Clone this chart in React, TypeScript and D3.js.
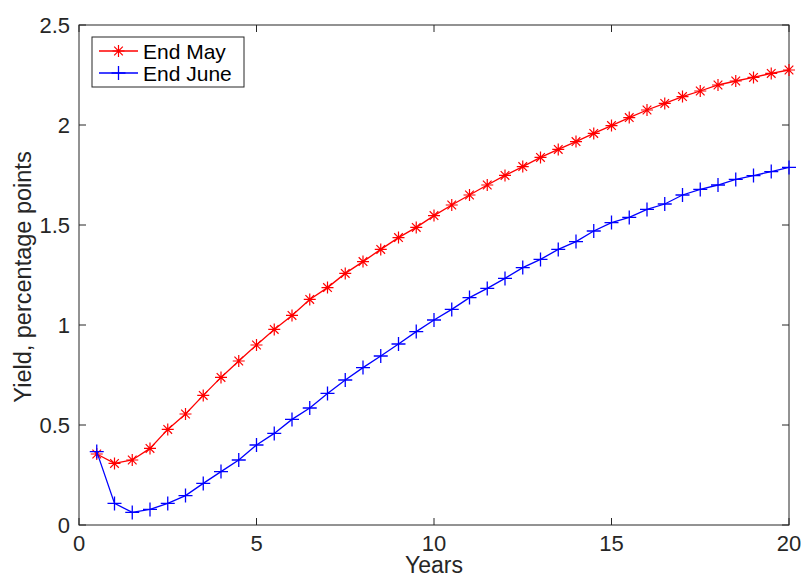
import { useEffect, useRef } from 'react'
import * as d3 from 'd3'

const years = [
  0.5, 1, 1.5, 2, 2.5, 3, 3.5, 4, 4.5, 5, 5.5, 6, 6.5, 7, 7.5, 8, 8.5, 9, 9.5, 10,
  10.5, 11, 11.5, 12, 12.5, 13, 13.5, 14, 14.5, 15, 15.5, 16, 16.5, 17, 17.5, 18, 18.5, 19, 19.5, 20,
]

const endMay = [
  0.355, 0.308, 0.325, 0.383, 0.478, 0.555, 0.648, 0.738, 0.82, 0.9, 0.978, 1.048, 1.128, 1.187, 1.258, 1.317, 1.378, 1.437, 1.488, 1.547,
  1.6, 1.65, 1.7, 1.748, 1.792, 1.838, 1.878, 1.917, 1.958, 1.997, 2.037, 2.075, 2.108, 2.142, 2.17, 2.2, 2.22, 2.238, 2.258, 2.275,
]

const endJune = [
  0.367, 0.108, 0.063, 0.078, 0.108, 0.147, 0.208, 0.267, 0.325, 0.4, 0.458, 0.528, 0.585, 0.658, 0.725, 0.787, 0.845, 0.905, 0.967, 1.025,
  1.078, 1.137, 1.183, 1.233, 1.287, 1.328, 1.378, 1.417, 1.47, 1.512, 1.538, 1.578, 1.605, 1.65, 1.678, 1.7, 1.728, 1.747, 1.767, 1.788,
]

const xTicks = [0, 5, 10, 15, 20]
const yTicks = [0, 0.5, 1, 1.5, 2, 2.5]

export default function App() {
  const svgRef = useRef<SVGSVGElement>(null)

  useEffect(() => {
    const width = 803
    const height = 577
    const margin = { top: 25, right: 14, bottom: 52, left: 79 }
    const ink = '#262626'
    const font = 'Liberation Sans, Arial, sans-serif'

    const svg = d3.select(svgRef.current)
      .attr('width', width)
      .attr('height', height)
      .style('font-family', font)

    svg.selectAll('*').remove()

    const x = d3.scaleLinear().domain([0, 20]).range([margin.left, width - margin.right])
    const y = d3.scaleLinear().domain([0, 2.5]).range([height - margin.bottom, margin.top])

    const g = svg.append('g')
    const tick = 7

    // box
    g.append('rect')
      .attr('x', x(0)).attr('y', y(2.5))
      .attr('width', x(20) - x(0)).attr('height', y(0) - y(2.5))
      .attr('fill', 'none').attr('stroke', ink).attr('stroke-width', 1)

    // x ticks (bottom + top, inside)
    xTicks.forEach(t => {
      g.append('line').attr('x1', x(t)).attr('x2', x(t))
        .attr('y1', y(0)).attr('y2', y(0) - tick).attr('stroke', ink)
      g.append('line').attr('x1', x(t)).attr('x2', x(t))
        .attr('y1', y(2.5)).attr('y2', y(2.5) + tick).attr('stroke', ink)
      g.append('text')
        .attr('x', x(t)).attr('y', y(0) + 26)
        .attr('text-anchor', 'middle')
        .attr('font-size', 22).attr('fill', ink)
        .text(d3.format('')(t))
    })

    // y ticks (left + right, inside)
    yTicks.forEach(t => {
      g.append('line').attr('x1', x(0)).attr('x2', x(0) + tick)
        .attr('y1', y(t)).attr('y2', y(t)).attr('stroke', ink)
      g.append('line').attr('x1', x(20)).attr('x2', x(20) - tick)
        .attr('y1', y(t)).attr('y2', y(t)).attr('stroke', ink)
      g.append('text')
        .attr('x', x(0) - 9).attr('y', y(t) + 8)
        .attr('text-anchor', 'end')
        .attr('font-size', 22).attr('fill', ink)
        .text(t)
    })

    // axis labels
    g.append('text')
      .attr('x', x(10)).attr('y', 573)
      .attr('text-anchor', 'middle')
      .attr('font-size', 23).attr('fill', ink)
      .text('Years')

    g.append('text')
      .attr('transform', `translate(31,${y(1.24)}) rotate(-90)`)
      .attr('text-anchor', 'middle')
      .attr('font-size', 23.5).attr('fill', ink)
      .text('Yield, percentage points')

    const line = d3.line<number>()
      .x((d, i) => x(years[i]))
      .y(d => y(d))

    const star = (sel: d3.Selection<SVGGElement, unknown, null, undefined>, cx: number, cy: number, color: string) => {
      const r = 6
      const d = r * 0.72
      sel.append('path')
        .attr('d', `M${cx - r},${cy}H${cx + r}M${cx},${cy - r}V${cy + r}M${cx - d},${cy - d}L${cx + d},${cy + d}M${cx - d},${cy + d}L${cx + d},${cy - d}`)
        .attr('stroke', color).attr('stroke-width', 1.2).attr('fill', 'none')
    }
    const plus = (sel: d3.Selection<SVGGElement, unknown, null, undefined>, cx: number, cy: number, color: string) => {
      const r = 7
      sel.append('path')
        .attr('d', `M${cx - r},${cy}H${cx + r}M${cx},${cy - r}V${cy + r}`)
        .attr('stroke', color).attr('stroke-width', 1.3).attr('fill', 'none')
    }

    const series = [
      { name: 'End May', values: endMay, color: '#ff0000', marker: star },
      { name: 'End June', values: endJune, color: '#0000ff', marker: plus },
    ]

    series.forEach(s => {
      g.append('path')
        .datum(s.values)
        .attr('d', line)
        .attr('fill', 'none')
        .attr('stroke', s.color)
        .attr('stroke-width', 1.3)
      const mg = g.append('g')
      s.values.forEach((v, i) => s.marker(mg, x(years[i]), y(v), s.color))
    })

    // legend
    const lg = g.append('g')
    lg.append('rect')
      .attr('x', 92).attr('y', 37).attr('width', 152).attr('height', 50)
      .attr('fill', '#fff').attr('stroke', ink).attr('stroke-width', 1)
    series.forEach((s, i) => {
      const ly = 51 + i * 22
      lg.append('line').attr('x1', 99).attr('x2', 138).attr('y1', ly).attr('y2', ly)
        .attr('stroke', s.color).attr('stroke-width', 1.3)
      const mg = lg.append('g')
      s.marker(mg, 118.5, ly, s.color)
      lg.append('text')
        .attr('x', 143).attr('y', ly + 7.5)
        .attr('font-size', 21).attr('fill', '#000')
        .text(s.name)
    })
  }, [])

  return (
    <div style={{ position: 'absolute', left: 0, top: 0 }}>
      <svg ref={svgRef}></svg>
    </div>
  )
}
